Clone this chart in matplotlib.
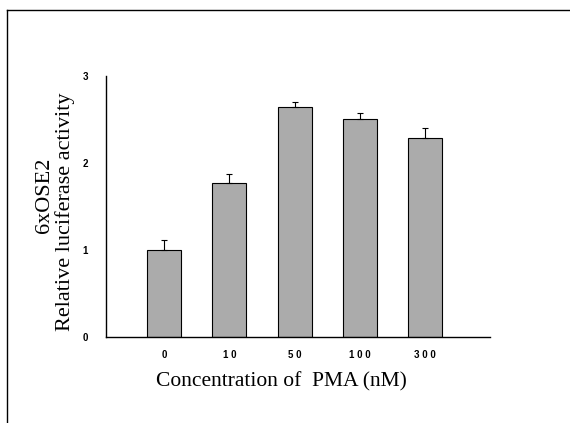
import numpy as np
import matplotlib
matplotlib.use("Agg")
import matplotlib.pyplot as plt

categories = ['0', '10', '50', '100', '300']
values = [1.00, 1.77, 2.64, 2.51, 2.29]
errors = [0.11, 0.10, 0.06, 0.06, 0.11]
y_ticks = [0, 1, 2, 3]

fig = plt.figure(figsize=(5.70, 4.23), dpi=100)

# outer frame (top and left lines only)
fig.add_artist(plt.Line2D([7/570, 1.0], [1 - 10/423, 1 - 10/423], color='k', lw=1.0))
fig.add_artist(plt.Line2D([7/570, 7/570], [0.0, 1 - 10/423], color='k', lw=1.0))

ax = fig.add_axes([106/570, 1 - 337/423, (490 - 106)/570, (337 - 76)/423])

x = np.arange(len(categories))
ax.bar(x, values, width=0.52, color='#ababab', edgecolor='k', linewidth=0.8, zorder=2)
ax.errorbar(x, values, yerr=[np.zeros(len(errors)), errors], fmt='none',
            ecolor='k', elinewidth=0.8, capsize=2.5, capthick=0.8, zorder=3)

ax.set_xlim(-0.89, 4.99)
ax.set_ylim(0, 3)
ax.set_xticks(x)
# tick labels in the reference are letter-spaced
ax.set_xticklabels([' '.join(c) for c in categories], fontsize=7, fontweight='bold',
                   family='Liberation Sans')
ax.set_yticks(y_ticks)
ax.set_yticklabels([str(t) for t in y_ticks], fontsize=7, fontweight='bold', family='Liberation Sans')
ax.tick_params(axis='y', length=0, pad=13)
ax.tick_params(axis='x', length=0, pad=9)

for s in ['top', 'right']:
    ax.spines[s].set_visible(False)
ax.spines['left'].set_linewidth(1.0)
ax.spines['bottom'].set_linewidth(1.0)

fig.text(281/570, 1 - 382/423, 'Concentration of  PMA (nM)', family='Liberation Serif',
         fontsize=15.5, ha='center', va='center')
fig.text(45/570, 1 - 195/423, '6xOSE2', family='Liberation Serif', fontsize=16,
         rotation=90, ha='center', va='center')
fig.text(65/570, 1 - 212/423, 'Relative luciferase activity', family='Liberation Serif',
         fontsize=16, rotation=90, ha='center', va='center')

fig.savefig('out.png', dpi=100)
